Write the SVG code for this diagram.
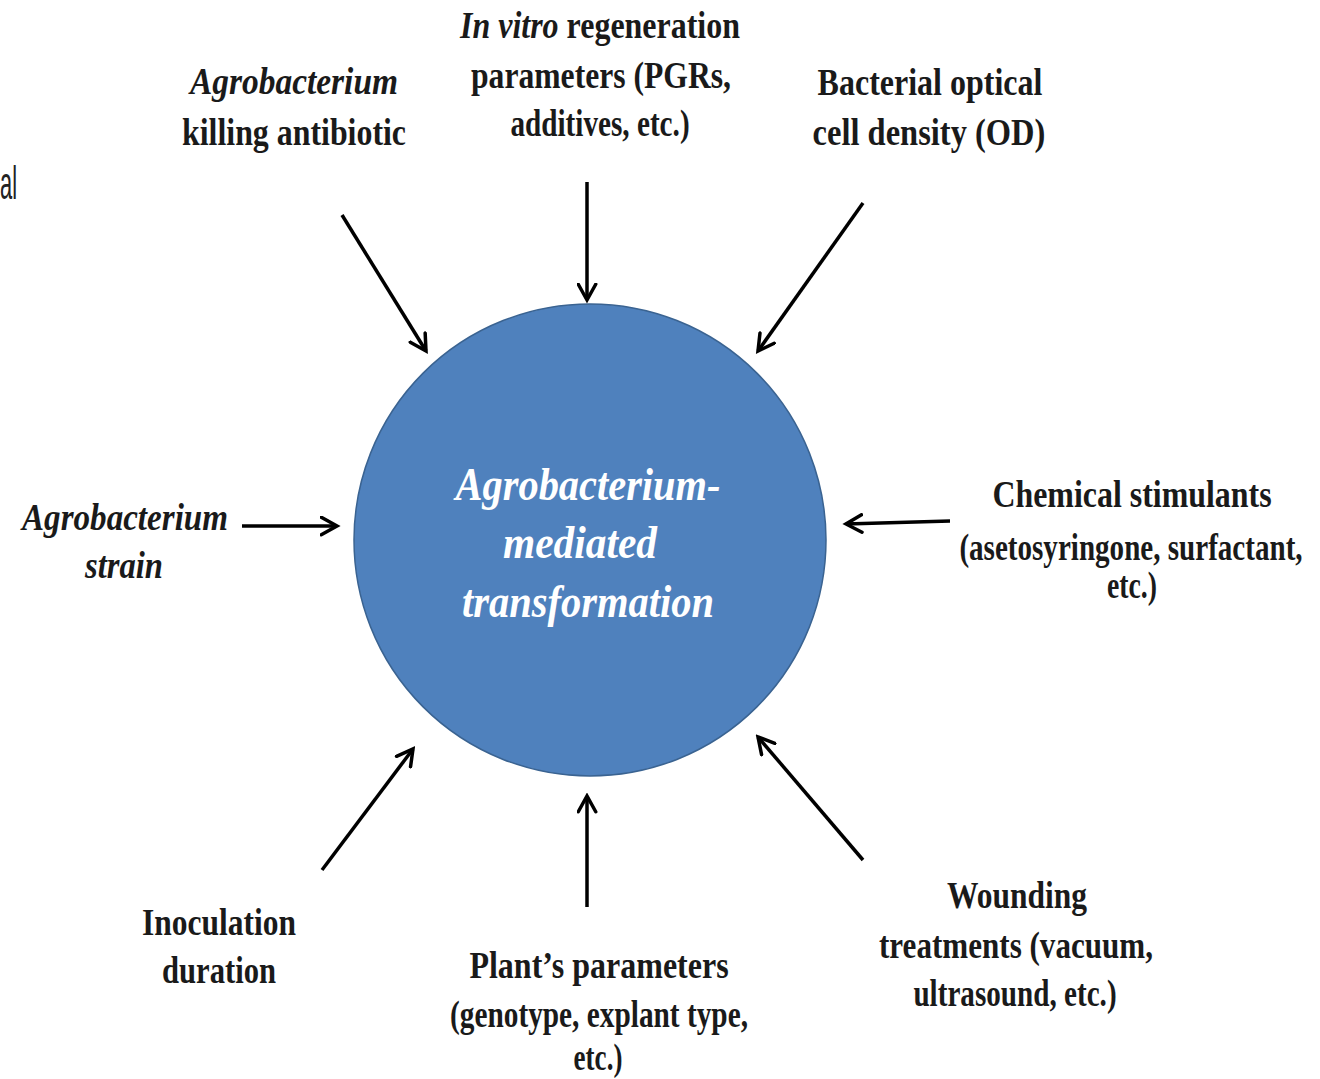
<svg xmlns="http://www.w3.org/2000/svg" width="1320" height="1079" viewBox="0 0 1320 1079">
<style>
.lbl{font-family:"Liberation Serif","Times New Roman",serif;font-weight:bold;font-size:38px;fill:#1a1a1a;text-anchor:middle}
.it{font-style:italic}
.ctr{font-family:"Liberation Serif","Times New Roman",serif;font-weight:bold;font-style:italic;font-size:46px;fill:#ffffff;text-anchor:middle}
.conn line{stroke:#000;stroke-width:3.5;fill:none;marker-end:url(#ah)}
</style>
<defs>
<marker id="ah" viewBox="0 0 12 12" refX="10" refY="6" markerWidth="6" markerHeight="6" orient="auto" markerUnits="strokeWidth">
<path d="M1,1 L10,6 L1,11" fill="none" stroke="#000" stroke-width="2" stroke-linecap="round" stroke-linejoin="miter"/>
</marker>
</defs>
<rect width="1320" height="1079" fill="#ffffff"/>
<text x="0" y="199" font-family="Liberation Sans Narrow,Liberation Sans,sans-serif" font-size="46" fill="#222" textLength="17" lengthAdjust="spacingAndGlyphs">al</text>

<g id="center">
<circle cx="590" cy="540" r="236" fill="#4F81BD" stroke="#3A6391" stroke-width="1.5"/>
<text class="ctr" transform="translate(588 500) scale(0.8 1)" textLength="331" lengthAdjust="spacingAndGlyphs">Agrobacterium-</text>
<text class="ctr" transform="translate(580 558) scale(0.8 1)" textLength="192.5" lengthAdjust="spacingAndGlyphs">mediated</text>
<text class="ctr" transform="translate(588 617) scale(0.8 1)" textLength="315" lengthAdjust="spacingAndGlyphs">transformation</text>
</g>

<g id="n-killing">
<text class="lbl it" transform="translate(294 94) scale(0.8 1)" textLength="260" lengthAdjust="spacingAndGlyphs">Agrobacterium</text>
<text class="lbl" transform="translate(294 145) scale(0.8 1)" textLength="280" lengthAdjust="spacingAndGlyphs">killing  antibiotic</text>
</g>

<g id="n-invitro">
<text class="lbl" transform="translate(600 38) scale(0.8 1)" textLength="350" lengthAdjust="spacingAndGlyphs"><tspan font-style="italic">In vitro</tspan> regeneration</text>
<text class="lbl" transform="translate(601 88) scale(0.8 1)" textLength="325" lengthAdjust="spacingAndGlyphs">parameters  (PGRs,</text>
<text class="lbl" transform="translate(600 136) scale(0.8 1)" textLength="224" lengthAdjust="spacingAndGlyphs">additives, etc.)</text>
</g>

<g id="n-od">
<text class="lbl" transform="translate(930 95) scale(0.8 1)" textLength="281" lengthAdjust="spacingAndGlyphs">Bacterial  optical</text>
<text class="lbl" transform="translate(929 145) scale(0.8 1)" textLength="291" lengthAdjust="spacingAndGlyphs">cell density (OD)</text>
</g>

<g id="n-strain">
<text class="lbl it" transform="translate(125 530) scale(0.8 1)" textLength="257.5" lengthAdjust="spacingAndGlyphs">Agrobacterium</text>
<text class="lbl it" transform="translate(124 578) scale(0.8 1)" textLength="97.5" lengthAdjust="spacingAndGlyphs">strain</text>
</g>

<g id="n-chemical">
<text class="lbl" transform="translate(1132 507) scale(0.8 1)" textLength="349" lengthAdjust="spacingAndGlyphs">Chemical  stimulants</text>
<text class="lbl" transform="translate(1131 560) scale(0.8 1)" textLength="429" lengthAdjust="spacingAndGlyphs">(asetosyringone, surfactant,</text>
<text class="lbl" transform="translate(1132 598) scale(0.8 1)" textLength="62.5" lengthAdjust="spacingAndGlyphs">etc.)</text>
</g>

<g id="n-inoculation">
<text class="lbl" transform="translate(219 935) scale(0.8 1)" textLength="192.5" lengthAdjust="spacingAndGlyphs">Inoculation</text>
<text class="lbl" transform="translate(219 983) scale(0.8 1)" textLength="142.5" lengthAdjust="spacingAndGlyphs">duration</text>
</g>

<g id="n-plant">
<text class="lbl" transform="translate(599 978) scale(0.8 1)" textLength="324" lengthAdjust="spacingAndGlyphs">Plant’s  parameters</text>
<text class="lbl" transform="translate(599 1027) scale(0.8 1)" textLength="372.5" lengthAdjust="spacingAndGlyphs">(genotype, explant type,</text>
<text class="lbl" transform="translate(598 1070) scale(0.8 1)" textLength="61" lengthAdjust="spacingAndGlyphs">etc.)</text>
</g>

<g id="n-wounding">
<text class="lbl" transform="translate(1017 908) scale(0.8 1)" textLength="175" lengthAdjust="spacingAndGlyphs">Wounding</text>
<text class="lbl" transform="translate(1016 958) scale(0.8 1)" textLength="342.5" lengthAdjust="spacingAndGlyphs">treatments  (vacuum,</text>
<text class="lbl" transform="translate(1015 1006) scale(0.8 1)" textLength="254" lengthAdjust="spacingAndGlyphs">ultrasound, etc.)</text>
</g>

<g id="connectors" class="conn">
<line x1="342" y1="215" x2="426" y2="351"/>
<line x1="587" y1="182" x2="587" y2="300"/>
<line x1="863" y1="203" x2="758" y2="351"/>
<line x1="242" y1="526" x2="337" y2="526"/>
<line x1="950" y1="521" x2="846" y2="524"/>
<line x1="322" y1="870" x2="413" y2="749"/>
<line x1="587" y1="907" x2="587" y2="796"/>
<line x1="863" y1="860" x2="758" y2="737"/>
</g>
</svg>
